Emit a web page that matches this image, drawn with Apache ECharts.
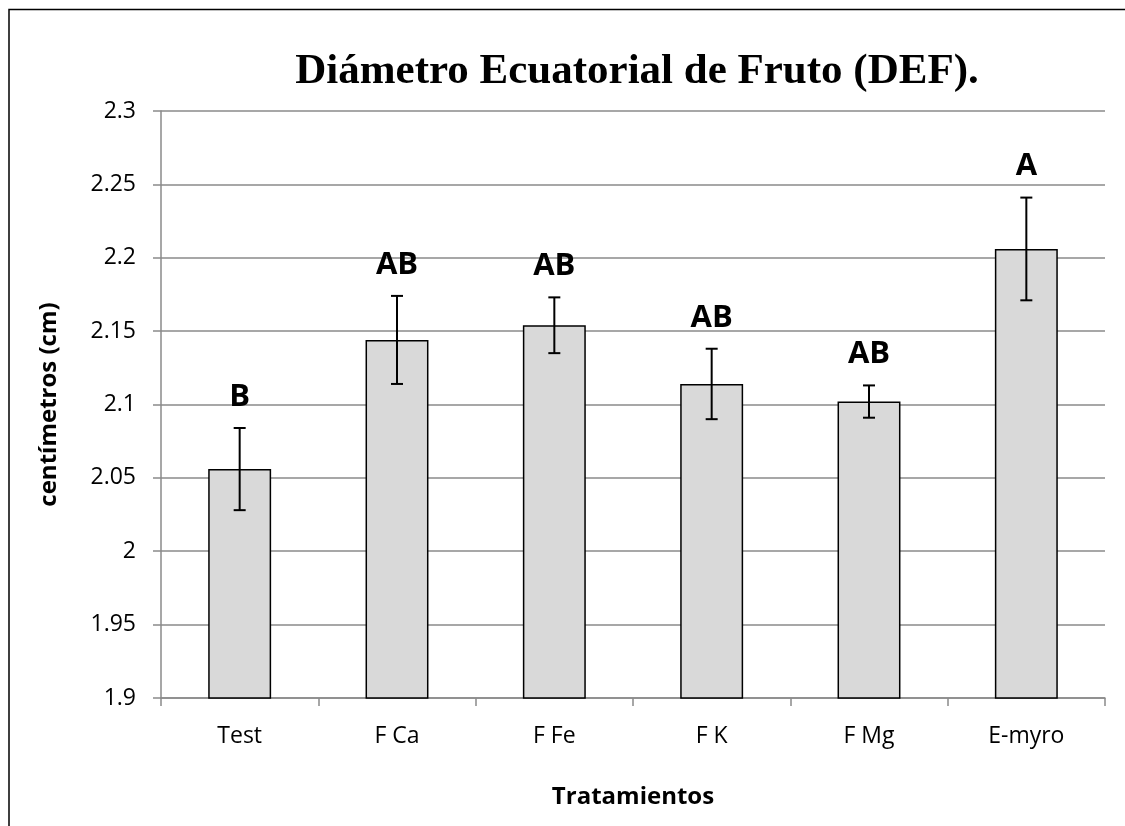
<!DOCTYPE html>
<html>
<head>
<meta charset="utf-8">
<script src="https://cdn.jsdelivr.net/npm/echarts@6/dist/echarts.min.js"></script>
<style>html,body{margin:0;padding:0;background:#fff;}#c{width:1125px;height:826px;}</style>
</head>
<body>
<div id="c"></div>
<script>
var categories = ['Test', 'F Ca', 'F Fe', 'F K', 'F Mg', 'E-myro'];
var means = [2.056, 2.144, 2.154, 2.114, 2.102, 2.206];
var errors = [0.028, 0.030, 0.019, 0.024, 0.011, 0.035];
var letters = ['B', 'AB', 'AB', 'AB', 'AB', 'A'];
var yMin = 1.9, yMax = 2.3, yStep = 0.05;

var chart = echarts.init(document.getElementById('c'));
var font = '"Open Sans", "Noto Sans", sans-serif';
var errData = categories.map(function (c, i) { return [i, means[i] - errors[i], means[i] + errors[i]]; });

chart.setOption({
  backgroundColor: '#fff',
  animation: false,
  title: {
    text: 'Diámetro Ecuatorial de Fruto (DEF).',
    left: 632, top: 45, textAlign: 'center',
    textStyle: { fontFamily: '"Liberation Serif", "DejaVu Serif", serif', fontWeight: 'bold', fontSize: 43, color: '#000' }
  },
  graphic: [{
    type: 'rect', shape: { x: 9, y: 9.5, width: 1300, height: 1000 },
    style: { fill: 'none', stroke: '#000', lineWidth: 1.5 }, silent: true, z: 100
  }],
  grid: { left: 161, right: 20, top: 111, bottom: 128 },
  xAxis: {
    type: 'category', data: categories,
    name: 'Tratamientos', nameLocation: 'middle', nameGap: 87,
    nameTextStyle: { fontFamily: font, fontWeight: 'bold', fontSize: 24, color: '#000' },
    axisLine: { lineStyle: { color: '#8a8a8a', width: 1.5 } },
    axisTick: { show: true, length: 8, lineStyle: { color: '#8a8a8a', width: 1.5 } },
    axisLabel: { fontFamily: font, fontSize: 23, color: '#000', margin: 27 }
  },
  yAxis: {
    type: 'value', min: yMin, max: yMax, interval: yStep,
    name: 'centímetros (cm)', nameLocation: 'middle', nameGap: 100, nameRotate: 90,
    nameTextStyle: { fontFamily: font, fontWeight: 'bold', fontSize: 24, color: '#000' },
    axisLine: { show: true, lineStyle: { color: '#8a8a8a', width: 1.5 } },
    axisTick: { show: true, length: 8, lineStyle: { color: '#8a8a8a', width: 1.5 } },
    splitLine: { lineStyle: { color: '#8a8a8a', width: 1.5 } },
    axisLabel: {
      fontFamily: font, fontSize: 23, color: '#000', margin: 25,
      formatter: function (v) { return String(parseFloat(v.toFixed(2))); }
    }
  },
  series: [{
    type: 'bar', data: means, barWidth: '40%',
    itemStyle: { color: '#d9d9d9', borderColor: '#000', borderWidth: 1.5 }
  }, {
    type: 'custom', data: errData, z: 10,
    renderItem: function (params, api) {
      var x = api.coord([api.value(0), api.value(1)])[0];
      var lo = api.coord([api.value(0), api.value(1)])[1];
      var hi = api.coord([api.value(0), api.value(2)])[1];
      var cap = 6;
      var st = { stroke: '#000', lineWidth: 2 };
      return {
        type: 'group', children: [
          { type: 'line', shape: { x1: x, y1: lo, x2: x, y2: hi }, style: st },
          { type: 'line', shape: { x1: x - cap, y1: hi, x2: x + cap, y2: hi }, style: st },
          { type: 'line', shape: { x1: x - cap, y1: lo, x2: x + cap, y2: lo }, style: st },
          { type: 'text', style: { text: letters[params.dataIndex], x: x, y: hi - 31, align: 'center', verticalAlign: 'middle',
              font: 'bold 31px "Open Sans", "Noto Sans", sans-serif', fill: '#000' } }
        ]
      };
    }
  }]
});
</script>
</body>
</html>
